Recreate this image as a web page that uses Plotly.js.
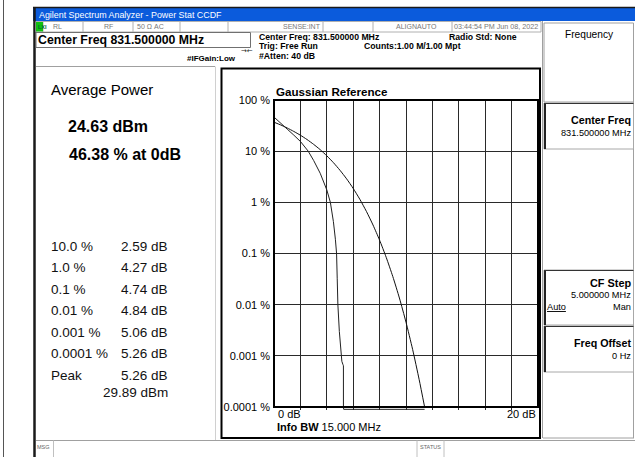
<!DOCTYPE html>
<html><head><meta charset="utf-8">
<script src="https://cdn.plot.ly/plotly-3.0.1.min.js"></script>
<style>html,body{margin:0;padding:0;background:#fff;overflow:hidden}#chart{width:635px;height:457px}</style>
</head><body><div id="chart"></div>
<script>
// ---- data ----
const gaussDb  = [0, 0.5, 1, 1.5, 2, 2.5, 3, 3.5, 4, 4.5, 5, 5.5, 6, 6.5, 7, 7.5, 8, 8.5, 9, 9.5, 10, 10.5, 11, 11.41];
const gaussPct = [36.8, 32.6, 28.4, 24.3, 20.5, 16.9, 13.6, 10.7, 8.11, 5.97, 4.23, 2.88, 1.87, 1.15, 0.666, 0.361, 0.182, 0.0842, 0.0355, 0.0135, 0.00454, 0.00134, 0.000341, 0.0001];
const measDb   = [0, 0.25, 0.5, 1.0, 1.5, 2.0, 2.59, 3.0, 3.5, 4.0, 4.27, 4.5, 4.65, 4.74, 4.79, 4.84, 4.95, 5.06, 5.14, 5.22, 5.26, 5.26, 5.28, 11.41];
const measPct  = [46.38, 40.2, 34.8, 27.0, 20.6, 15.5, 10.0, 6.6, 3.7, 1.75, 1.0, 0.42, 0.19, 0.1, 0.032, 0.01, 0.003, 0.001, 0.00078, 0.00068, 0.00064, 0.0001, 0.00009, 0.00009];
const yTickVals = [0.0001, 0.001, 0.01, 0.1, 1, 10, 100];
const yTickText = ['0.0001 %', '0.001 %', '0.01 %', '0.1 %', '1 %', '10 %', '100 %'];
const statLabels = ['10.0 %', '1.0 %', '0.1 %', '0.01 %', '0.001 %', '0.0001 %', 'Peak'];
const statValues = ['2.59 dB', '4.27 dB', '4.74 dB', '4.84 dB', '5.06 dB', '5.26 dB', '5.26 dB'];
const peakPower = '29.89 dBm';
const avgPower = '24.63 dBm';
const atZero = '46.38 % at 0dB';

// ---- geometry (pixels) ----
const PL = 274, PR = 538, PT = 100, PB = 410, AXB = 407;
const decade = (AXB - PT) / 6;
const yLow = -4 - (PB - AXB) / decade;
const X = p => (p - PL) / (PR - PL);
const Y = p => (PB - p) / (PB - PT);
const FONT = 'Arial, "Liberation Sans", sans-serif';

const shapes = [];
function rect(x0, y0, x1, y1, lc, lw, fill, layer) {
  shapes.push({type: 'rect', xref: 'paper', yref: 'paper', x0: X(x0), x1: X(x1), y0: Y(y1), y1: Y(y0),
    line: {color: lc || 'rgba(0,0,0,0)', width: lc ? (lw || 1) : 0}, fillcolor: fill || 'rgba(0,0,0,0)', layer: layer || 'above'});
}
function seg(x0, y0, x1, y1, c, w) {
  shapes.push({type: 'line', xref: 'paper', yref: 'paper', x0: X(x0), x1: X(x1), y0: Y(y0), y1: Y(y1),
    line: {color: c, width: w || 1}, layer: 'above'});
}
const annotations = [];
function txt(t, x, y, size, opt) {
  opt = opt || {};
  annotations.push({text: t, xref: 'paper', yref: 'paper', x: X(x), y: Y(y), xanchor: opt.anchor || 'left', yanchor: 'middle',
    showarrow: false, borderpad: 0, font: {family: opt.family || FONT, size: size, color: opt.color || '#000'}});
}

// outer page / window chrome
seg(3.5, 0, 3.5, 457, '#555', 1);
rect(33, 7, 635, 21, null, 0, '#0b5bdc');
seg(33, 7.5, 635, 7.5, '#1a1a1a', 1.5);
seg(34.5, 7, 34.5, 457, '#1a1a1a', 2.5);
// status row
rect(36, 21.5, 541, 32, '#b0b0b0', 1, '#fff');
[43, 83, 133, 180, 228, 323, 373, 452].forEach(x => seg(x, 21.5, x, 32, '#b0b0b0', 1));
rect(36, 22, 43, 31.5, null, 0, '#10c010');
// big center freq box
rect(36, 32.5, 250.5, 47.5, '#707070', 1, '#fff');
// left panel
seg(36, 66.5, 215, 66.5, '#a0a0a0', 1);
seg(215.5, 66.5, 215.5, 440, '#d0d0d0', 1);
// chart box
rect(221.5, 68.5, 540, 438, '#000', 2);
// right panel frame + keys
seg(542.5, 21, 542.5, 438, '#a0a0a0', 1);
seg(633.5, 23, 633.5, 438, '#a0a0a0', 1);
seg(543, 438, 634, 438, '#a0a0a0', 1);
rect(544, 23, 633.5, 102, '#a0a0a0', 1, '#fff');
[[103, 149], [270, 325], [326, 372]].forEach(k => {
  rect(544, k[0], 633.5, k[1], '#a8a8a8', 1, '#fff');
  seg(545, k[0], 545, k[1], '#222', 2);
  seg(544, k[0] + 0.5, 633.5, k[0] + 0.5, '#333', 1);
});
// message bar
seg(36, 440.5, 635, 440.5, '#a0a0a0', 1);
[53.5, 417, 444].forEach(x => seg(x, 440.5, x, 457, '#c0c0c0', 1));
// plot border (drawn over the plot area edges)
rect(PL, PT, PR, AXB, '#000', 2);

// header texts
txt('Agilent Spectrum Analyzer - Power Stat CCDF', 38, 15, 8.9, {color: '#fff'});
txt('<b>LXI</b>', 36.5, 26.8, 5.5, {color: '#063'});
const st = {color: '#777'};
txt('RL', 52, 26.8, 7, st); txt('RF', 103, 26.8, 7, st); txt('50 Ω', 136, 26.8, 7, st); txt('AC', 153, 26.8, 7, st);
txt('SENSE:INT', 282, 26.8, 7, st); txt('ALIGNAUTO', 395, 26.8, 7, st); txt('03:44:54 PM Jun 08, 2022', 453, 26.8, 7.2, st);
txt('<b>Center Freq 831.500000 MHz</b>', 37, 40, 12.3);
txt('<b>Center Freq: 831.500000 MHz</b>', 258, 37.5, 8.7);
txt('<b>Trig: Free Run</b>', 258, 45.5, 8.7);
txt('<b>Counts:1.00 M/1.00 Mpt</b>', 363, 45.5, 8.7);
txt('<b>Radio Std: None</b>', 448, 37.5, 8.7);
txt('<b>#Atten: 40 dB</b>', 258, 55.5, 8.7);
txt('<b>#IFGain:Low</b>', 237, 58.5, 8, {anchor: 'right'});
txt('→←', 240, 50.5, 7, {family: 'DejaVu Sans', color: '#222'});

// left panel texts
txt('Average Power', 50, 89, 15);
txt('<b>' + avgPower + '</b>', 66.5, 127, 16);
txt('<b>' + atZero + '</b>', 67.5, 154, 16);
const rowY = [246, 267.5, 289, 310.5, 332, 353.5, 375.5];
statLabels.forEach((s, i) => {
  txt(s, 50, rowY[i], 13.5, {color: '#111'});
  txt(statValues[i], 168.5, rowY[i], 13.5, {anchor: 'right', color: '#111'});
});
txt(peakPower, 168.5, 392.5, 13.5, {anchor: 'right', color: '#111'});

// chart texts
txt('0 dB', 276.5, 414.5, 11);
txt('20 dB', 537, 414.5, 11, {anchor: 'right'});
txt('<b>Info BW</b> 15.000 MHz', 276, 427, 11);

// right panel texts
txt('Frequency', 589, 35, 10.2, {anchor: 'center'});
txt('<b>Center Freq</b>', 632, 120, 10.7, {anchor: 'right'});
txt('831.500000 MHz', 632, 132.7, 9.2, {anchor: 'right'});
txt('<b>CF Step</b>', 632, 282.7, 10.9, {anchor: 'right'});
txt('5.000000 MHz', 632, 295.3, 9.2, {anchor: 'right'});
txt('<u>Auto</u>', 546, 306.7, 9.2);
txt('Man', 632, 306.7, 9.2, {anchor: 'right'});
txt('<b>Freq Offset</b>', 632, 342.7, 10.7, {anchor: 'right'});
txt('0 Hz', 632, 355.7, 9.2, {anchor: 'right'});

// message bar
txt('MSG', 35.5, 447, 5.5, {color: '#666'});
txt('STATUS', 430.5, 447, 5.5, {color: '#666', anchor: 'center'});

const traces = [
  {x: gaussDb, y: gaussPct, type: 'scatter', mode: 'lines', name: 'Gaussian Reference',
   line: {color: '#111', width: 1, shape: 'spline', smoothing: 0.6}, hoverinfo: 'skip'},
  {x: measDb, y: measPct, type: 'scatter', mode: 'lines', name: 'Measured',
   line: {color: '#222', width: 1}, hoverinfo: 'skip'}
];

const layout = {
  width: 635, height: 457,
  margin: {l: PL, r: 635 - PR, t: PT, b: 457 - PB, pad: 0},
  paper_bgcolor: '#fff', plot_bgcolor: '#fff', showlegend: false,
  font: {family: FONT, color: '#000', size: 11},
  title: {text: '<b>Gaussian Reference</b>', x: X(276), xref: 'paper', xanchor: 'left',
          y: (457 - 91.5) / 457, yref: 'container', yanchor: 'middle', font: {size: 11.6, color: '#000', family: FONT}, pad: {t: 0, b: 0, l: 0, r: 0}},
  xaxis: {range: [0, 20], dtick: 2, tick0: 0, showgrid: true, gridcolor: '#2a2a2a', gridwidth: 1,
          showticklabels: false, ticks: '', showline: false, zeroline: false, fixedrange: true},
  yaxis: {type: 'log', range: [yLow, 2], tickmode: 'array', tickvals: yTickVals, ticktext: yTickText,
          showgrid: true, gridcolor: '#2a2a2a', gridwidth: 1, ticks: '', showline: false, zeroline: false,
          ticklabelstandoff: 3, tickfont: {size: 11, color: '#000'}, fixedrange: true},
  shapes: shapes, annotations: annotations
};

Plotly.newPlot('chart', traces, layout, {staticPlot: true, displayModeBar: false});
</script></body></html>
